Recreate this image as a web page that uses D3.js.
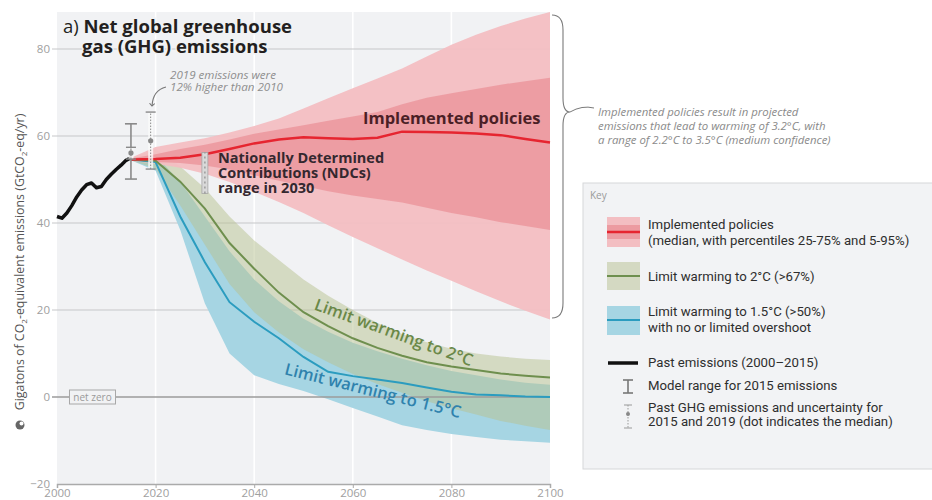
<!DOCTYPE html>
<html><head><meta charset="utf-8">
<script src="https://cdn.jsdelivr.net/npm/d3@7"></script>
<style>body{margin:0;background:#fff;} svg{display:block;font-family:"Open Sans",sans-serif;}</style>
</head><body><svg id="c" width="932" height="500"></svg>
<script>
// ---------- data ----------
const xTicks = [2000, 2020, 2040, 2060, 2080, 2100];
const yTicks = [-20, 0, 20, 40, 60, 80];
const yGrid = [20, 40, 60, 80];

const pastYears  = [2000,2001,2002,2003,2004,2005,2006,2007,2008,2009,2010,2011,2012,2013,2014,2015];
const pastValues = [41.5,41.1,42.3,44.0,46.0,47.6,48.8,49.2,48.1,48.4,50.0,51.2,52.3,53.3,54.4,55.0];

const projYears = [2015,2020,2025,2030,2035,2040,2045,2050,2055,2060,2065,2070,2075,2080,2085,2090,2095,2100];
const implMedian = [54.6,54.7,55.0,55.8,57.0,58.3,59.2,59.7,59.5,59.3,59.6,61.0,60.9,60.8,60.6,60.2,59.3,58.5];
const implP25    = [54.4,54.0,53.8,53.2,52.3,51.0,49.7,48.5,47.3,46.3,45.5,44.7,43.5,42.3,41.3,40.2,39.3,38.4];
const implP75    = [54.8,55.8,57.0,58.0,59.2,60.5,61.5,62.5,63.5,64.5,65.5,67.3,68.8,69.8,70.8,71.8,72.6,73.4];
const implP5     = [54.3,53.6,52.7,51.3,49.4,47.2,44.8,42.3,39.5,36.8,34.2,31.6,29.1,26.7,24.3,22.0,19.8,17.8];
const implP95    = [55.0,57.5,58.5,59.5,60.8,62.3,64.0,66.3,68.7,71.0,73.2,75.5,78.3,81.0,83.3,85.3,87.0,88.5];

const c2Median = [54.6,54.3,49.5,43.3,35.4,29.5,24.0,19.5,16.3,13.5,11.3,9.5,8.0,7.0,6.2,5.4,4.9,4.5];
const c2High   = [54.8,57.0,53.0,48.0,41.5,36.0,31.5,27.0,23.3,20.0,17.0,14.5,12.6,11.1,10.0,9.3,8.8,8.5];
const c2Low    = [54.4,52.5,44.0,35.0,26.0,19.5,14.8,11.0,8.0,5.3,3.0,1.0,-1.0,-2.6,-4.0,-5.5,-6.6,-7.6];

const c15Median = [54.6,54.0,41.5,31.0,21.8,17.3,13.5,9.2,5.8,4.8,4.0,3.2,2.2,1.2,0.6,0.4,0.1,0.0];
const c15High   = [54.8,55.5,49.5,41.5,33.5,27.0,22.0,18.0,15.0,12.5,10.5,8.8,7.3,6.0,5.0,4.0,3.3,2.8];
const c15Low    = [54.4,52.0,38.4,21.5,10.0,5.0,3.0,1.4,-0.5,-2.5,-4.5,-6.5,-7.6,-8.5,-9.2,-9.8,-10.2,-10.5];

const modelYears = [2015]; const modelLow = [50.1]; const modelHigh = [62.8];
const obsYears = [2015, 2019]; const obsMedian = [56.1, 58.9]; const obsLow = [54.7, 52.4]; const obsHigh = [57.4, 65.5];
const ndcYears = [2030]; const ndcLow = [46.8]; const ndcHigh = [56.2];

const plotTop = 88.5;

// ---------- setup ----------
const svg = d3.select("#c");
const x = d3.scaleLinear().domain([2000, 2100]).range([57, 550]);
const y = d3.scaleLinear().domain([-20, 80]).range([484, 49]);

svg.append("rect").attr("x", x(2000)).attr("y", y(plotTop))
  .attr("width", x(2100) - x(2000)).attr("height", y(-20) - y(plotTop)).attr("fill", "#f1f2f4");

svg.append("g").selectAll("line").data(xTicks.slice(1, -1)).join("line")
  .attr("x1", d => x(d)).attr("x2", d => x(d)).attr("y1", y(plotTop)).attr("y2", y(-20))
  .attr("stroke", "#fff").attr("stroke-width", 1.6);

svg.append("g").selectAll("line").data(yGrid).join("line")
  .attr("x1", 52).attr("x2", x(2100)).attr("y1", d => y(d)).attr("y2", d => y(d))
  .attr("stroke", "#c6c7c9").attr("stroke-width", 1);

svg.append("g").selectAll("text").data(yTicks).join("text")
  .attr("x", 50).attr("y", d => y(d)).attr("dy", "0.35em").attr("text-anchor", "end")
  .attr("font-size", 11.5).attr("fill", "#a0a0a0")
  .text(d => d < 0 ? "\u2212" + Math.abs(d) : d);

const xAxis = d3.axisBottom(x).tickValues(xTicks).tickFormat(d3.format("d")).tickSize(4).tickPadding(1);
const gx = svg.append("g").attr("transform", `translate(0,${y(-20)})`).call(xAxis);
gx.select(".domain").attr("stroke", "#aaa").attr("stroke-width", 1.5);
gx.selectAll(".tick line").attr("stroke", "#aaa");
gx.selectAll(".tick text").attr("font-size", 11.5).attr("fill", "#a0a0a0").attr("font-family", "Open Sans");

// ---------- bands ----------
const idx = projYears.map((d, i) => i);
const band = (lo, hi) => d3.area().x(i => x(projYears[i])).y0(i => y(lo[i])).y1(i => y(hi[i]));
const line = (arr) => d3.line().x(i => x(projYears[i])).y(i => y(arr[i]));

svg.append("path").attr("d", band(c15Low, c15High)(idx)).attr("fill", "#a6d5e3");
svg.append("path").attr("d", band(c2Low, c2High)(idx)).attr("fill", "#b7c290").attr("fill-opacity", 0.5);
svg.append("path").attr("d", band(implP5, implP95)(idx)).attr("fill", "#f3bec2").attr("fill-opacity", 0.95);
svg.append("path").attr("d", band(implP25, implP75)(idx)).attr("fill", "#ec9ba1").attr("fill-opacity", 0.95);

svg.append("line").attr("x1", 52).attr("x2", x(2100)).attr("y1", y(0)).attr("y2", y(0))
  .attr("stroke", "#9b9b9b").attr("stroke-width", 1.4);
const nz = svg.append("g").attr("transform", `translate(${x(2007.2)},${y(0)})`);
nz.append("rect").attr("x", -23).attr("y", -7).attr("width", 46).attr("height", 14)
  .attr("fill", "#f1f2f4").attr("stroke", "#a8a8a8").attr("stroke-width", 1);
nz.append("text").attr("text-anchor", "middle").attr("dy", "0.35em").attr("font-size", 10)
  .attr("fill", "#9a9a9a").text("net zero");

svg.append("path").attr("d", line(c15Median)(idx)).attr("fill", "none").attr("stroke", "#2b9cbf").attr("stroke-width", 2);
svg.append("path").attr("d", line(c2Median)(idx)).attr("fill", "none").attr("stroke", "#6e8f4e").attr("stroke-width", 2);
svg.append("path").attr("d", line(implMedian)(idx)).attr("fill", "none").attr("stroke", "#e62530").attr("stroke-width", 2.5);

svg.append("path").attr("d", d3.line().x((d, i) => x(pastYears[i])).y(d => y(d))(pastValues))
  .attr("fill", "none").attr("stroke", "#111").attr("stroke-width", 3.5).attr("stroke-linejoin", "round");

modelYears.forEach((yr, i) => {
  const g = svg.append("g").attr("stroke", "#8a8a8a").attr("stroke-width", 1.6);
  g.append("line").attr("x1", x(yr)).attr("x2", x(yr)).attr("y1", y(modelLow[i])).attr("y2", y(modelHigh[i]));
  g.append("line").attr("x1", x(yr) - 6).attr("x2", x(yr) + 6).attr("y1", y(modelLow[i])).attr("y2", y(modelLow[i]));
  g.append("line").attr("x1", x(yr) - 6).attr("x2", x(yr) + 6).attr("y1", y(modelHigh[i])).attr("y2", y(modelHigh[i]));
});
obsYears.forEach((yr, i) => {
  const g = svg.append("g");
  g.append("rect").attr("x", x(yr) - 2.5).attr("y", y(obsHigh[i])).attr("width", 5)
    .attr("height", y(obsLow[i]) - y(obsHigh[i])).attr("fill", "#fafafa").attr("fill-opacity", 0.8);
  g.append("line").attr("x1", x(yr)).attr("x2", x(yr)).attr("y1", y(obsLow[i])).attr("y2", y(obsHigh[i]))
    .attr("stroke", "#8a8a8a").attr("stroke-width", 1).attr("stroke-dasharray", "1.5,1.5");
  [obsLow[i], obsHigh[i]].forEach(v => g.append("line").attr("x1", x(yr) - 5).attr("x2", x(yr) + 5)
    .attr("y1", y(v)).attr("y2", y(v)).attr("stroke", "#8a8a8a").attr("stroke-width", 1.4));
  g.append("circle").attr("cx", x(yr)).attr("cy", y(obsMedian[i])).attr("r", 2.6).attr("fill", "#888");
});
ndcYears.forEach((yr, i) => {
  const g = svg.append("g");
  g.append("rect").attr("x", x(yr) - 3).attr("y", y(ndcHigh[i])).attr("width", 6)
    .attr("height", y(ndcLow[i]) - y(ndcHigh[i])).attr("fill", "#d9d9d9").attr("stroke", "#a5a5a5").attr("stroke-width", 0.8);
  g.append("line").attr("x1", x(yr)).attr("x2", x(yr)).attr("y1", y(ndcLow[i])).attr("y2", y(ndcHigh[i]))
    .attr("stroke", "#8d8d8d").attr("stroke-width", 1.2).attr("stroke-dasharray", "2,3");
});

// ---------- text annotations ----------
const title = svg.append("text").attr("font-size", 18.5).attr("fill", "#231f20")
  .attr("stroke", "#f1f2f4").attr("stroke-width", 3).attr("paint-order", "stroke");
title.append("tspan").attr("x", 63).attr("y", 33).attr("font-weight", 400).text("a) ");
title.append("tspan").attr("font-weight", 700).text("Net global greenhouse");
title.append("tspan").attr("x", 82).attr("y", 53).attr("font-weight", 700).text("gas (GHG) emissions");

const noteLines = ["2019 emissions were", "12% higher than 2010"];
noteLines.forEach((t, i) => svg.append("text").attr("x", 170).attr("y", 79 + i * 12)
  .attr("font-size", 11.6).attr("font-style", "italic").attr("fill", "#8e8e8e").text(t));
svg.append("defs").append("marker").attr("id", "ah").attr("viewBox", "0 0 10 10").attr("refX", 5).attr("refY", 5)
  .attr("markerWidth", 6).attr("markerHeight", 6).attr("orient", "auto-start-reverse")
  .append("path").attr("d", "M1,1 L5,5 L1,9").attr("fill", "none").attr("stroke", "#777").attr("stroke-width", 1.6);
svg.append("path").attr("d", `M166,87 Q153,90 152,106`).attr("fill", "none").attr("stroke", "#777")
  .attr("stroke-width", 1.1).attr("marker-end", "url(#ah)");

svg.append("text").attr("x", 363).attr("y", 124).attr("font-size", 16.5).attr("font-weight", 700)
  .attr("fill", "#4b1f26").text("Implemented policies");

["Nationally Determined", "Contributions (NDCs)", "range in 2030"].forEach((t, i) =>
  svg.append("text").attr("x", 218).attr("y", 163 + i * 15).attr("font-size", 14.5).attr("font-weight", 700)
    .attr("fill", "#34282f").text(t));

svg.append("text").attr("transform", `translate(${x(2052)},${y(c2Median[7]) - 3}) rotate(20)`)
  .attr("font-size", 16.5).attr("font-weight", 600).attr("fill", "#6a8848").text("Limit warming to 2\u00B0C");
svg.append("text").attr("transform", `translate(${x(2046)},${y(c15Median[6]) + 36}) rotate(14)`)
  .attr("font-size", 16.5).attr("font-weight", 600).attr("fill", "#2f82ad").text("Limit warming to 1.5\u00B0C");

const yl = svg.append("text").attr("transform", "translate(24,262) rotate(-90)").attr("text-anchor", "middle")
  .attr("font-size", 12.4).attr("fill", "#555");
yl.append("tspan").text("Gigatons of CO");
yl.append("tspan").attr("font-size", 8).attr("dy", 3).text("2");
yl.append("tspan").attr("dy", -3).text("-equivalent emissions (GtCO");
yl.append("tspan").attr("font-size", 8).attr("dy", 3).text("2");
yl.append("tspan").attr("dy", -3).text("-eq/yr)");
svg.append("circle").attr("cx", 20).attr("cy", 425).attr("r", 4.5).attr("fill", "#666");
svg.append("circle").attr("cx", 21.5).attr("cy", 423.5).attr("r", 2).attr("fill", "#fff");

svg.append("path").attr("d", "M552,15 Q563,15 563,30 L563,98 Q563,112 570,112 Q563,112 563,126 L563,303 Q563,318 552,318")
  .attr("fill", "none").attr("stroke", "#7a7a7a").attr("stroke-width", 1.1);
svg.append("path").attr("d", "M570,112 Q582,105 594,108").attr("fill", "none").attr("stroke", "#7a7a7a").attr("stroke-width", 1);
["Implemented policies result in projected",
 "emissions that lead to warming of 3.2\u00B0C, with",
 "a range of 2.2\u00B0C to 3.5\u00B0C (medium confidence)"].forEach((t, i) =>
  svg.append("text").attr("x", 598).attr("y", 116 + i * 14).attr("font-size", 11.4).attr("font-style", "italic")
    .attr("fill", "#8a8a8a").text(t));

// ---------- key ----------
const key = svg.append("g");
key.append("rect").attr("x", 583).attr("y", 183).attr("width", 360).attr("height", 286)
  .attr("fill", "#f2f3f5").attr("stroke", "#d6d7d9").attr("stroke-width", 1);
key.append("text").attr("x", 590).attr("y", 199).attr("font-size", 10).attr("fill", "#9a9a9a").text("Key");
const kt = (xx, yy, t) => key.append("text").attr("x", xx).attr("y", yy).attr("font-size", 13.2)
  .attr("fill", "#2e2e2e").attr("font-family", "Roboto").text(t);
key.append("rect").attr("x", 607).attr("y", 217).attr("width", 33).attr("height", 30).attr("fill", "#f3bec2");
key.append("rect").attr("x", 607).attr("y", 225).attr("width", 33).attr("height", 14).attr("fill", "#ec9ba1");
key.append("line").attr("x1", 607).attr("x2", 640).attr("y1", 232).attr("y2", 232).attr("stroke", "#e62530").attr("stroke-width", 2.5);
kt(648, 229, "Implemented policies");
kt(648, 245, "(median, with percentiles 25-75% and 5-95%)");
key.append("rect").attr("x", 607).attr("y", 262).attr("width", 33).attr("height", 28).attr("fill", "#d4d9c2");
key.append("line").attr("x1", 607).attr("x2", 640).attr("y1", 276).attr("y2", 276).attr("stroke", "#6e8f4e").attr("stroke-width", 2);
kt(648, 281, "Limit warming to 2\u00B0C (>67%)");
key.append("rect").attr("x", 607).attr("y", 306).attr("width", 33).attr("height", 29).attr("fill", "#a6d5e3");
key.append("line").attr("x1", 607).attr("x2", 640).attr("y1", 320).attr("y2", 320).attr("stroke", "#2b9cbf").attr("stroke-width", 2);
kt(648, 316, "Limit warming to 1.5\u00B0C (>50%)");
kt(648, 332, "with no or limited overshoot");
key.append("line").attr("x1", 608).attr("x2", 638).attr("y1", 363).attr("y2", 363).attr("stroke", "#111").attr("stroke-width", 3.5);
kt(648, 367, "Past emissions (2000\u20132015)");
const kb = key.append("g").attr("stroke", "#777").attr("stroke-width", 1.6);
kb.append("line").attr("x1", 628).attr("x2", 628).attr("y1", 380).attr("y2", 393);
kb.append("line").attr("x1", 623).attr("x2", 633).attr("y1", 380).attr("y2", 380);
kb.append("line").attr("x1", 623).attr("x2", 633).attr("y1", 393).attr("y2", 393);
kt(648, 390, "Model range for 2015 emissions");
const ko = key.append("g");
ko.append("line").attr("x1", 628).attr("x2", 628).attr("y1", 405).attr("y2", 428).attr("stroke", "#999").attr("stroke-dasharray", "1.5,1.5");
ko.append("line").attr("x1", 624).attr("x2", 632).attr("y1", 405).attr("y2", 405).attr("stroke", "#999");
ko.append("line").attr("x1", 624).attr("x2", 632).attr("y1", 428).attr("y2", 428).attr("stroke", "#999");
ko.append("circle").attr("cx", 628).attr("cy", 414).attr("r", 2).attr("fill", "#888");
kt(648, 412, "Past GHG emissions and uncertainty for");
kt(648, 426, "2015 and 2019 (dot indicates the median)");
</script></body></html>
